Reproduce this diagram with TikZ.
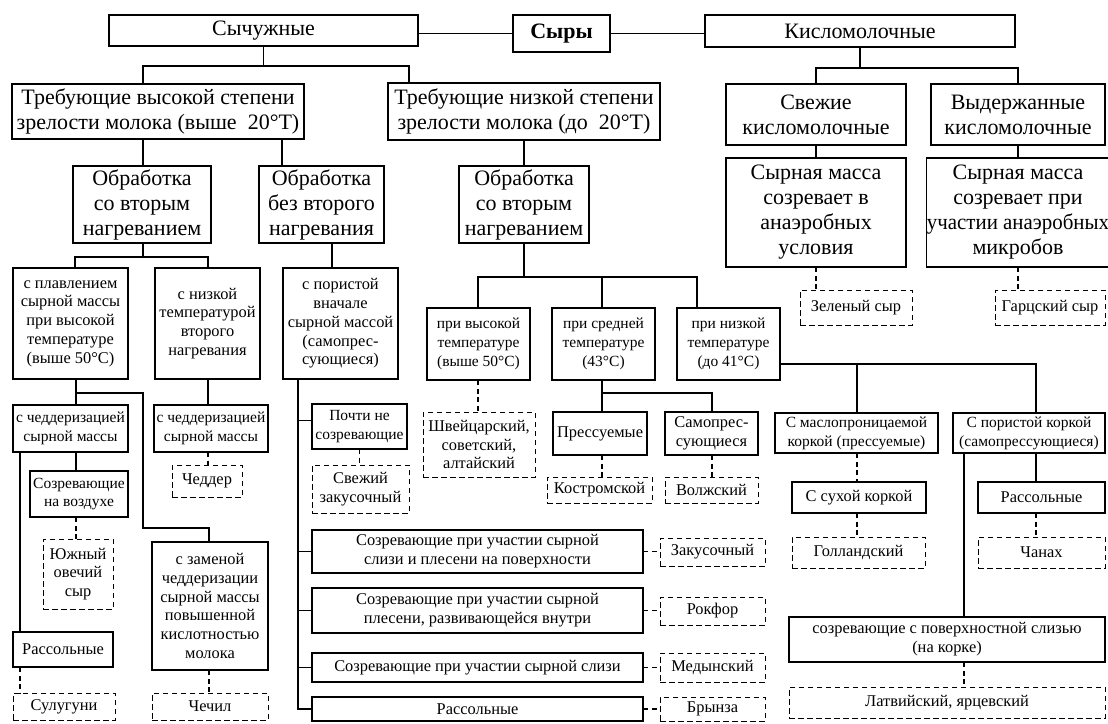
\documentclass[tikz,border=0pt]{standalone}
\usepackage{fontspec}
\setmainfont{Liberation Serif}
\newcommand\fbig{\fontsize{22}{25}\selectfont}
\newcommand\fsmall{\fontsize{16.4}{18.8}\selectfont}
\newcommand\fcond{\fontsize{15.5}{18.8}\selectfont}
\newcommand\nbox[7]{\node[#6, minimum width={#4-#2}, minimum height={#5-#3}] (#1) at ({(#2+#4)/2},{(#3+#5)/2}) {#7};}
\tikzset{
  box/.style={draw, line width=1.2pt, inner sep=0.5pt, outer sep=0pt, align=center, font=\fsmall},
  cbox/.style={box, font=\fcond},
  bigbox/.style={box, font=\fbig},
  dbox/.style={box, dash pattern=on 5.5pt off 3.5pt, line width=1pt},
  conn/.style={line width=1.9pt},
  dconn/.style={line width=1.5pt, dash pattern=on 5pt off 3.5pt},
}
\begin{document}
\begin{tikzpicture}[x=1pt,y=-1pt]
\fill[white] (0,0) rectangle (1108,723);
\useasboundingbox (0,0) rectangle (1108,723);
% row 1
\nbox{sych}{109}{15}{418}{46}{bigbox}{Сычужные}
\nbox{syry}{513}{15}{610}{52}{bigbox}{\textbf{Сыры}}
\nbox{kislo}{705}{15}{1015}{47}{bigbox}{Кисломолочные}
% row 2
\nbox{trebh}{12}{84}{304}{139}{bigbox}{Требующие высокой степени\\зрелости молока (выше \ 20°Т)}
\nbox{trebl}{388}{83}{660}{140}{bigbox}{Требующие низкой степени\\зрелости молока (до \ 20°Т)}
\nbox{svezh}{726}{84}{906}{145}{bigbox}{Свежие\\кисломолочные}
\nbox{vyder}{931}{84}{1105}{145}{bigbox}{Выдержанные\\кисломолочные}
% row 3
\nbox{obr1}{73}{166}{211}{243}{bigbox}{Обработка\\со вторым\\нагреванием}
\nbox{obr2}{259}{166}{384}{243}{bigbox}{Обработка\\без второго\\нагревания}
\nbox{obr3}{459}{166}{589}{243}{bigbox}{Обработка\\со вторым\\нагреванием}
\nbox{syr1}{726}{158}{906}{267}{bigbox}{Сырная масса\\созревает в\\анаэробных\\условия}
\nbox{syr2}{931}{158}{1105}{267}{bigbox}{Сырная масса\\созревает при\\\scalebox{0.95}[1]{участии анаэробных}\\микробов}
\nbox{zelen}{800}{290}{912}{325}{dbox}{Зеленый сыр}
\nbox{garc}{995}{290}{1105}{325}{dbox}{Гарцский сыр}
% row 4
\nbox{splav}{13}{268}{128}{379}{box}{с плавлением\\сырной массы\\при высокой\\температуре\\(выше 50°С)}
\nbox{snizk}{155}{268}{260}{379}{box}{с низкой\\температурой\\второго\\нагревания}
\nbox{spor}{283}{268}{398}{379}{box}{с пористой\\вначале\\сырной массой\\(самопрес-\\сующиеся)}
\nbox{privys}{427}{308}{530}{380}{cbox}{при высокой\\температуре\\(выше 50°С)}
\nbox{prisred}{552}{308}{655}{380}{cbox}{при средней\\температуре\\(43°С)}
\nbox{prinizk}{677}{308}{780}{380}{cbox}{при низкой\\температуре\\(до 41°С)}
% row 5
\nbox{chedd1}{13}{405}{128}{452}{cbox}{с чеддеризацией\\сырной массы}
\nbox{chedd2}{154}{405}{268}{452}{cbox}{с чеддеризацией\\сырной массы}
\nbox{pochti}{312}{404}{407}{449}{cbox}{Почти не\\созревающие}
\nbox{shveyc}{423}{412}{535}{477}{dbox}{Швейцарский,\\советский,\\алтайский}
\nbox{press}{553}{412}{647}{455}{box}{Прессуемые}
\nbox{samopr}{665}{412}{758}{455}{box}{Самопрес-\\сующиеся}
\nbox{maslo}{775}{413}{938}{453}{cbox}{С маслопроницаемой\\коркой (прессуемые)}
\nbox{porist}{953}{413}{1105}{453}{cbox}{С пористой коркой\\(самопрессующиеся)}
% row 6
\nbox{ozvozd}{30}{471}{128}{517}{cbox}{Созревающие\\на воздухе}
\nbox{chedder}{172}{465}{242}{497}{dbox}{Чеддер}
\nbox{svzak}{312}{465}{409}{513}{dbox}{Свежий\\закусочный}
\nbox{kostrom}{547}{477}{652}{503}{dbox}{Костромской}
\nbox{volzh}{665}{477}{758}{503}{dbox}{Волжский}
\nbox{suhoi}{792}{482}{926}{513}{box}{С сухой коркой}
\nbox{rassr}{978}{482}{1105}{513}{box}{Рассольные}
% lower
\nbox{yuzhn}{43}{539}{113}{609}{dbox}{Южный\\овечий\\сыр}
\nbox{zamen}{152}{542}{268}{670}{box}{с заменой\\чеддеризации\\сырной массы\\повышенной\\кислотностью\\молока}
\nbox{bA}{312}{530}{643}{573}{box}{Созревающие при участии сырной\\слизи и плесени на поверхности}
\nbox{bB}{312}{588}{643}{633}{box}{Созревающие при участии сырной\\плесени, развивающейся внутри}
\nbox{bC}{312}{653}{643}{682}{box}{Созревающие при участии сырной слизи}
\nbox{bD}{312}{697}{643}{721}{box}{Рассольные}
\nbox{zakus}{660}{538}{765}{566}{dbox}{Закусочный}
\nbox{rokfor}{660}{597}{765}{625}{dbox}{Рокфор}
\nbox{medyn}{660}{653}{765}{682}{dbox}{Медынский}
\nbox{brynza}{660}{697}{765}{721}{dbox}{Брынза}
\nbox{gollan}{792}{537}{925}{568}{dbox}{Голландский}
\nbox{chanah}{978}{537}{1105}{568}{dbox}{Чанах}
\nbox{pover}{789}{617}{1105}{662}{box}{созревающие с поверхностной слизью\\(на корке)}
\nbox{latv}{789}{687}{1105}{718}{dbox}{Латвийский, ярцевский}
\nbox{rassl}{13}{632}{113}{667}{box}{Рассольные}
\nbox{sulug}{13}{693}{115}{720}{dbox}{Сулугуни}
\nbox{chechil}{152}{693}{268}{720}{dbox}{Чечил}
% junction coordinates
\coordinate (jA) at (143,66);
\coordinate (jB) at (409,66);
\coordinate (jC) at (816,68);
\coordinate (jD) at (1018,68);
\coordinate (jE) at (282,0);
\coordinate (jF) at (75,257);
\coordinate (jG) at (208,257);
\coordinate (jH) at (332,0);
\coordinate (jI) at (478,277);
\coordinate (jJ) at (697,277);
\coordinate (jK) at (602,277);
\coordinate (jL) at (76,393);
\coordinate (jM) at (143,528);
\coordinate (jN) at (209,528);
\coordinate (jP) at (20,0);
\coordinate (jQ) at (298,0);
\coordinate (jR) at (602,393);
\coordinate (jS) at (712,393);
\coordinate (jT) at (857,364);
\coordinate (jU) at (1036,364);
\coordinate (jV) at (964,0);
% solid connectors
\draw[conn] (syry.west -| sych.east) -- (syry.west);
\draw[conn] (syry.east) -- (syry.east -| kislo.west);
\draw[conn] (sych.south) -- (sych.south |- jA);
\draw[conn] (trebh.north -| jA) |- (jB) -- (trebl.north -| jB);
\draw[conn] (kislo.south) -- (kislo.south |- jC);
\draw[conn] (svezh.north -| jC) |- (jD) -- (vyder.north -| jD);
\draw[conn] (trebh.south -| jA) -- (obr1.north -| jA);
\draw[conn] (trebh.south -| jE) -- (obr2.north -| jE);
\draw[conn] (trebl.south) -- (obr3.north);
\draw[conn] (svezh.south -| jC) -- (syr1.north -| jC);
\draw[conn] (vyder.south -| jD) -- (syr2.north -| jD);
\draw[conn] (obr1.south -| jA) -- (jA |- jF);
\draw[conn] (splav.north -| jF) |- (jG) -- (snizk.north -| jG);
\draw[conn] (obr2.south -| jH) -- (spor.north -| jH);
\draw[conn] (obr3.south) -- (obr3.south |- jI);
\draw[conn] (privys.north -| jI) |- (jJ) -- (prinizk.north -| jJ);
\draw[conn] (jK) -- (prisred.north -| jK);
\draw[conn] (splav.south -| jL) -- (chedd1.north -| jL);
\draw[conn] (jL) -| (jM) -- (jN) -- (zamen.north -| jN);
\draw[conn] (snizk.south -| jG) -- (chedd2.north -| jG);
\draw[conn] (chedd1.south -| jL) -- (ozvozd.north -| jL);
\draw[conn] (chedd1.south -| jP) -- (rassl.north -| jP);
\draw[conn] (spor.south -| jQ) |- (bD.west);
\draw[conn] ([yshift=6pt]pochti.west -| jQ) -- ([yshift=6pt]pochti.west);
\draw[conn] (bA.west -| jQ) -- (bA.west);
\draw[conn] (bB.west -| jQ) -- (bB.west);
\draw[conn] (bC.west -| jQ) -- (bC.west);
\draw[conn] (prisred.south -| jR) -- (press.north -| jR);
\draw[conn] (jR) -- (jS) -- (samopr.north -| jS);
\draw[conn] (prinizk.east |- jT) -- (jU) -- (porist.north -| jU);
\draw[conn] (jT) -- (maslo.north -| jT);
\draw[conn] (porist.south -| jU) -- (rassr.north -| jU);
\draw[conn] (porist.south -| jV) -- (pover.north -| jV);
% dashed connectors
\draw[dconn] (syr1.south -| jC) -- (zelen.north -| jC);
\draw[dconn] (syr2.south -| jD) -- (garc.north -| jD);
\draw[dconn] (chedd2.south -| jG) -- (chedder.north -| jG);
\draw[dconn] (ozvozd.south -| jL) -- (yuzhn.north -| jL);
\draw[dconn] (rassl.south -| jP) -- (sulug.north -| jP);
\draw[dconn] (zamen.south -| jN) -- (chechil.north -| jN);
\draw[dconn] (pochti.south) -- (pochti.south |- svzak.north);
\draw[dconn] (privys.south -| jI) -- (shveyc.north -| jI);
\draw[dconn] (press.south -| jR) -- (kostrom.north -| jR);
\draw[dconn] (samopr.south -| jS) -- (volzh.north -| jS);
\draw[dconn] (maslo.south -| jT) -- (suhoi.north -| jT);
\draw[dconn] (suhoi.south -| jT) -- (gollan.north -| jT);
\draw[dconn] (rassr.south -| jU) -- (chanah.north -| jU);
\draw[dconn] (pover.south -| jV) -- (latv.north -| jV);
\draw[dconn] (bA.east) -- (bA.east -| zakus.west);
\draw[dconn] (bB.east) -- (bB.east -| rokfor.west);
\draw[dconn] (bC.east) -- (bC.east -| medyn.west);
\draw[dconn] (bD.east) -- (bD.east -| brynza.west);
\end{tikzpicture}
\end{document}
